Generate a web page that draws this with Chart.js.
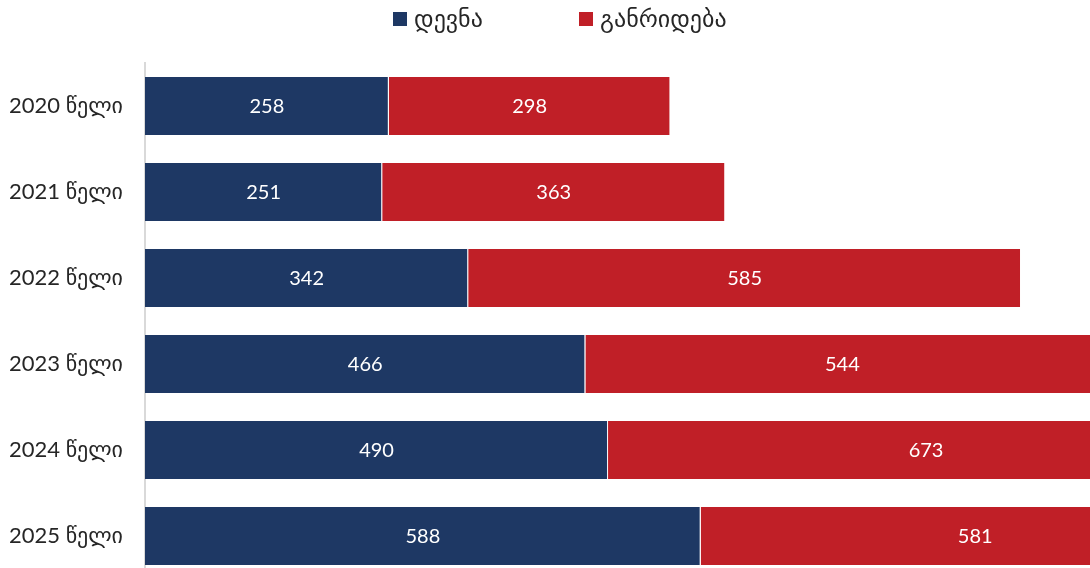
<!DOCTYPE html>
<html>
<head>
<meta charset="utf-8">
<script src="https://cdn.jsdelivr.net/npm/chart.js@4.4.1/dist/chart.umd.min.js"></script>
<style>
  html, body { margin: 0; padding: 0; background: #fff; overflow: hidden; }
</style>
</head>
<body>
<canvas id="chart" width="1090" height="580"></canvas>
<script>
// data
const years = ['2020 წელი', '2021 წელი', '2022 წელი', '2023 წელი', '2024 წელი', '2025 წელი'];
const prosecution = [258, 251, 342, 466, 490, 588];   // დევნა
const diversion = [298, 363, 585, 544, 673, 581];     // განრიდება
const seriesNames = ['დევნა', 'განრიდება'];
const seriesColors = ['#1e3864', '#c01f27'];

const FONT = 'Lato, "DejaVu Sans", sans-serif';

// white value labels in the middle of every bar
const valueLabels = {
  id: 'valueLabels',
  afterDatasetsDraw(chart) {
    const ctx = chart.ctx;
    ctx.save();
    ctx.font = '20px ' + FONT;
    ctx.fillStyle = '#ffffff';
    ctx.textAlign = 'center';
    ctx.textBaseline = 'middle';
    chart.data.datasets.forEach((ds, i) => {
      chart.getDatasetMeta(i).data.forEach((bar, j) => {
        const p = bar.getProps(['x', 'y', 'base'], true);
        ctx.fillText(ds.data[j], (p.x + p.base) / 2, p.y + 1);
      });
    });
    ctx.restore();
  }
};

// legend on top, items spread apart like the original
const topLegend = {
  id: 'topLegend',
  afterDraw(chart) {
    const ctx = chart.ctx;
    const xs = [393, 579];
    ctx.save();
    ctx.font = '24px ' + FONT;
    ctx.textBaseline = 'middle';
    ctx.textAlign = 'left';
    chart.data.datasets.forEach((ds, i) => {
      ctx.fillStyle = ds.backgroundColor;
      ctx.fillRect(xs[i], 12, 14, 14);
      ctx.fillStyle = '#262626';
      ctx.fillText(ds.label, xs[i] + 21, 19);
    });
    ctx.restore();
  }
};

new Chart(document.getElementById('chart'), {
  type: 'bar',
  data: {
    labels: years,
    datasets: [
      { label: seriesNames[0], data: prosecution, backgroundColor: seriesColors[0] },
      { label: seriesNames[1], data: diversion, backgroundColor: seriesColors[1] }
    ]
  },
  options: {
    indexAxis: 'y',
    responsive: false,
    animation: false,
    layout: { padding: { top: 63, right: 0, bottom: 1, left: 0 } },
    datasets: {
      bar: {
        categoryPercentage: 1,
        barPercentage: 0.674,
        borderWidth: { left: 0, top: 0, bottom: 0, right: 1 },
        borderColor: '#ffffff',
        borderSkipped: false
      }
    },
    scales: {
      x: { stacked: true, min: 0, max: 1000, display: false },
      y: {
        stacked: true,
        afterFit(scale) {
          scale.width = 145;
          scale.paddingTop = 0;
          scale.paddingBottom = 0;
        },
        grid: { display: false, drawTicks: false },
        border: { display: true, color: '#d9d9d9', width: 2 },
        ticks: { color: '#262626', font: { family: FONT, size: 22 }, padding: 22 }
      }
    },
    plugins: {
      legend: { display: false },
      tooltip: { enabled: false }
    }
  },
  plugins: [valueLabels, topLegend]
});
</script>
</body>
</html>
